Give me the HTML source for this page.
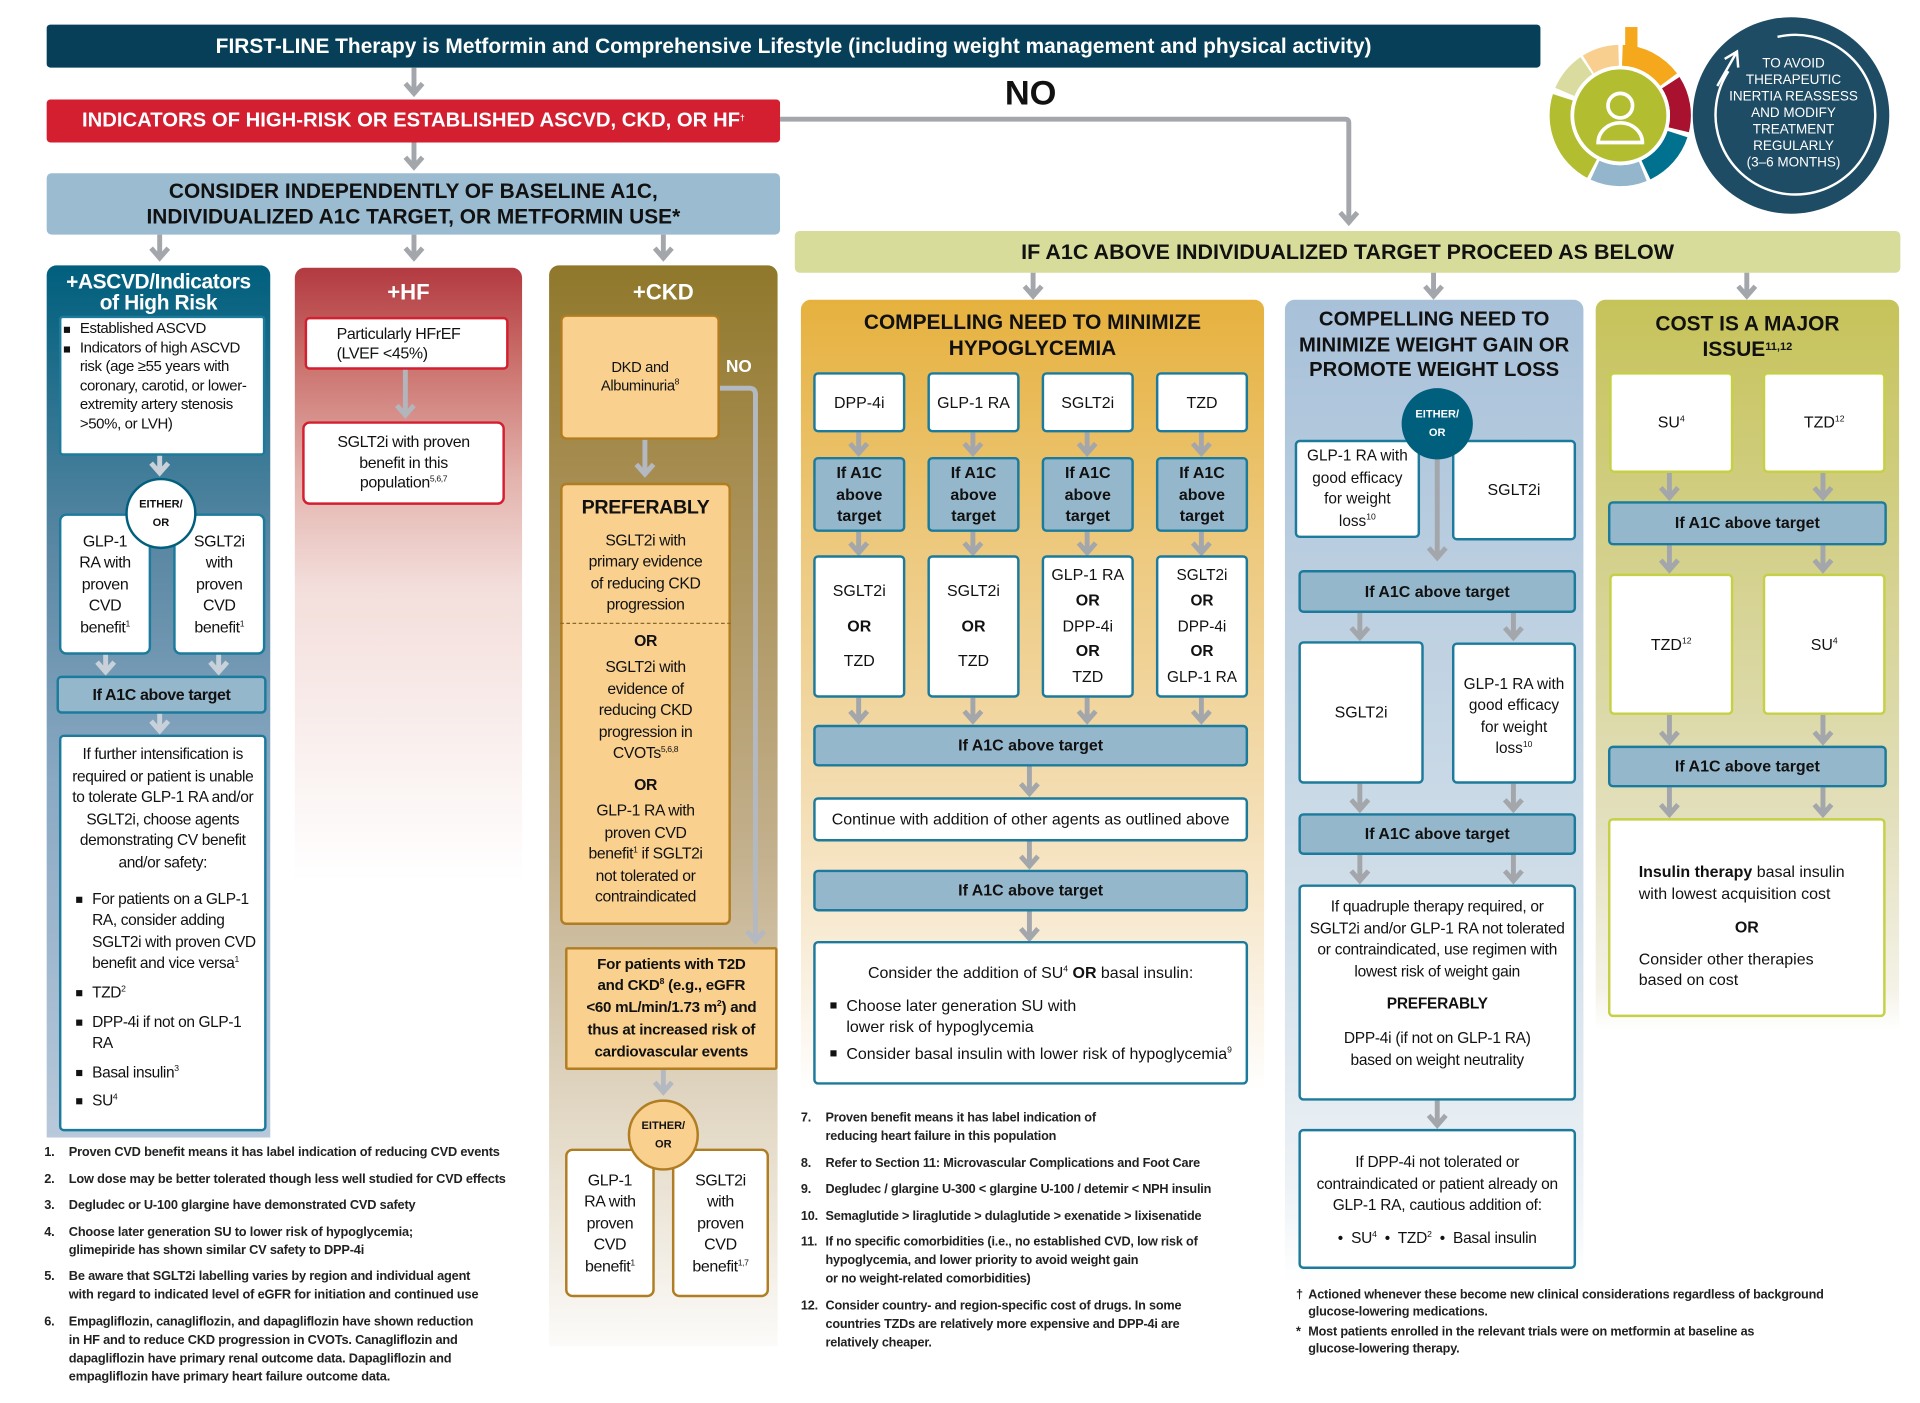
<!DOCTYPE html>
<html><head><meta charset="utf-8"><style>
html,body{margin:0;padding:0;background:#fff}
body{width:1920px;height:1403px;overflow:hidden;position:relative}
#c{position:absolute;left:0;top:0;width:1563px;height:1142px;transform:scale(1.22841);transform-origin:0 0;font-family:"Liberation Sans",sans-serif;color:#111}
.a{position:absolute;box-sizing:border-box}
.f{display:flex;flex-direction:column;align-items:center;justify-content:center;text-align:center}
.wb{background:#fff;border:2px solid #1c7b9c;border-radius:4px;font-size:13px;line-height:17.5px}
.bb{background:#95b7cc;border:2px solid #1c7b9c;border-radius:4px;font-size:13px;font-weight:bold;line-height:17.5px}
.ob{background:#f9d08e;border:2px solid #b07d22;border-radius:5px;font-size:13px;line-height:17.5px}
.yb{background:#fff;border:2px solid #c6d046;border-radius:4px;font-size:13px;line-height:17.5px}
.n{letter-spacing:-0.3px}
.hd{font-weight:bold;font-size:17px;line-height:21px}
sup{font-size:7px;vertical-align:5px;line-height:0}
ul{margin:0;padding:0 0 0 20px;list-style:none;text-align:left}
li{position:relative;margin-bottom:6px}
li:before{content:"";position:absolute;left:-13px;top:6px;width:5px;height:5px;background:#111}
.fn{font-size:10.4px;line-height:15px;font-weight:bold;color:#222;letter-spacing:-0.15px}
.fn div{position:relative;padding-left:20px;margin-bottom:6.5px}
.fn span{position:absolute;left:0}
</style></head><body><div id="c">

<!-- panels -->
<div class="a" style="left:38px;top:216px;width:182px;height:710px;border-radius:8px 8px 0 0;background:linear-gradient(#015f7e 0px,#0f6784 45px,#5a87a3 230px,#8aa9c3 420px,#b9cadb 720px)"></div>
<div class="a" style="left:240px;top:218px;width:185px;height:505px;border-radius:8px 8px 0 0;background:linear-gradient(#b23a40 0px,#c96c68 70px,#e3b2ac 170px,#f3dedb 260px,#fff 500px)"></div>
<div class="a" style="left:447px;top:216px;width:186px;height:880px;border-radius:8px 8px 0 0;background:linear-gradient(#8f782b 0px,#a48a4c 150px,#c3b08d 480px,#e6ddcc 720px,#fcfbf9 880px)"></div>
<div class="a" style="left:652px;top:244px;width:377px;height:645px;border-radius:8px 8px 0 0;background:linear-gradient(#e6b13e 0px,#edc97e 200px,#f3dcb0 400px,#faf1e2 560px,#fff 645px)"></div>
<div class="a" style="left:1046px;top:244px;width:243px;height:800px;border-radius:8px 8px 0 0;background:linear-gradient(#a8c1d9 0px,#bdd0e1 250px,#d3e0ea 520px,#edf2f6 720px,#fff 800px)"></div>
<div class="a" style="left:1299px;top:244px;width:247px;height:595px;border-radius:8px 8px 0 0;background:linear-gradient(#c6c35a 0px,#d3d08a 200px,#e2dfbc 420px,#f4f2e6 560px,#fff 595px)"></div>

<!-- top bars -->
<div class="a f" style="left:38px;top:20px;width:1216px;height:35px;background:#063f57;border-radius:3px;color:#fff;font-weight:bold;font-size:17px"><div>FIRST-LINE Therapy is Metformin and Comprehensive Lifestyle (including weight management and physical activity)</div></div>
<div class="a f" style="left:38px;top:81px;width:597px;height:35px;background:#d31f30;border-radius:3px;color:#fff;font-weight:bold;font-size:16.5px"><div>INDICATORS OF HIGH-RISK OR ESTABLISHED ASCVD, CKD, OR HF<sup>†</sup></div></div>
<div class="a f" style="left:38px;top:141px;width:597px;height:50px;background:#9bbbd1;border-radius:4px;font-weight:bold;font-size:17px;line-height:21px"><div>CONSIDER INDEPENDENTLY OF BASELINE A1C,<br>INDIVIDUALIZED A1C TARGET, OR METFORMIN USE*</div></div>
<div class="a" style="left:818px;top:60px;font-weight:bold;font-size:28px">NO</div>
<div class="a f" style="left:647px;top:188px;width:900px;height:34px;background:#d7dc9b;border-radius:4px;font-weight:bold;font-size:17.5px"><div>IF A1C ABOVE INDIVIDUALIZED TARGET PROCEED AS BELOW</div></div>

<!-- cycle graphic -->
<svg class="a" style="left:1250px;top:10px" width="313" height="180" viewBox="1250 10 313 180">
<g fill="none" stroke-width="17">
<circle cx="1319" cy="94" r="49" stroke="#f5a81c" stroke-dasharray="44 400" transform="rotate(-88 1319 94)"/>
<circle cx="1319" cy="94" r="49" stroke="#a8122e" stroke-dasharray="40 400" transform="rotate(-33 1319 94)"/>
<circle cx="1319" cy="94" r="49" stroke="#00718f" stroke-dasharray="40 400" transform="rotate(18 1319 94)"/>
<circle cx="1319" cy="94" r="49" stroke="#93b6cc" stroke-dasharray="40 400" transform="rotate(68 1319 94)"/>
<circle cx="1319" cy="94" r="49" stroke="#b2bd2f" stroke-dasharray="68 400" transform="rotate(118 1319 94)"/>
<circle cx="1319" cy="94" r="49" stroke="#d9dc9e" stroke-dasharray="28 400" transform="rotate(203 1319 94)"/>
<circle cx="1319" cy="94" r="49" stroke="#f9cf90" stroke-dasharray="26 400" transform="rotate(238 1319 94)"/>
</g>
<rect x="1323" y="22" width="10" height="22" fill="#f5a81c"/>
<circle cx="1319" cy="94" r="39" fill="#b2bd2f" stroke="#fff" stroke-width="3"/>
<circle cx="1319" cy="86" r="10" fill="none" stroke="#fff" stroke-width="3"/>
<path d="M1301 116 a18 16 0 0 1 36 0 z" fill="none" stroke="#fff" stroke-width="3"/>
<circle cx="1458" cy="94" r="80" fill="#1f4c65"/>
<path d="M1447 30 A65 65 0 1 1 1407 58" fill="none" stroke="#fff" stroke-width="2"/>
<path d="M1404 48 L1414 42 L1415 55 M1414 42 L1398 70" fill="none" stroke="#fff" stroke-width="2"/>
<text x="1460" y="55" fill="#fff" font-family="Liberation Sans" font-size="11" text-anchor="middle"><tspan x="1460">TO AVOID</tspan><tspan x="1460" dy="13.4">THERAPEUTIC</tspan><tspan x="1460" dy="13.4">INERTIA REASSESS</tspan><tspan x="1460" dy="13.4">AND MODIFY</tspan><tspan x="1460" dy="13.4">TREATMENT</tspan><tspan x="1460" dy="13.4">REGULARLY</tspan><tspan x="1460" dy="13.4">(3–6 MONTHS)</tspan></text>
</svg>

<!-- connectors -->
<svg class="a" style="left:0;top:0" width="1563" height="1142">
<g stroke="#a3a6aa" stroke-width="4" fill="none">
<path d="M337 55 V77 M330 68 L337 76 L344 68"/>
<path d="M337 116 V137 M330 128 L337 136 L344 128"/>
<path d="M130 191 V211 M123 202 L130 210 L137 202"/>
<path d="M337 191 V211 M330 202 L337 210 L344 202"/>
<path d="M540 191 V211 M533 202 L540 210 L547 202"/>
<path d="M635 97 H1095 Q1098 97 1098 100 V182 M1091 173 L1098 181 L1105 173"/>
<path d="M841 222 V242 M834 233 L841 241 L848 233"/>
<path d="M1167 222 V242 M1160 233 L1167 241 L1174 233"/>
<path d="M1422 222 V242 M1415 233 L1422 241 L1429 233"/>
<path d="M130 370 V386 M123 377 L130 385 L137 377" stroke="#c8d1da"/>
<path d="M86 532 V548 M79 539 L86 547 L93 539" stroke="#c8d1da"/>
<path d="M178 532 V548 M171 539 L178 547 L185 539" stroke="#c8d1da"/>
<path d="M130 580 V596 M123 587 L130 595 L137 587" stroke="#c8d1da"/>
<path d="M330 300 V339 M323 330 L330 338 L337 330" stroke="#b2b5b9"/>
<path d="M525 358 V387 M518 378 L525 386 L532 378" stroke="#b4b8c0"/>
<path d="M586 316 H610 Q615 316 615 321 V767 M608 758 L615 766 L622 758" stroke="#b4b8c0"/>
<path d="M540 871 V890 M533 881 L540 889 L547 881" stroke="#b4b8c0"/>
<path d="M699 352 V370 M692 361 L699 369 L706 361 M699 433 V451 M692 442 L699 450 L706 442 M699 568 V588 M692 579 L699 587 L706 579"/>
<path d="M792 352 V370 M785 361 L792 369 L799 361 M792 433 V451 M785 442 L792 450 L799 442 M792 568 V588 M785 579 L792 587 L799 579"/>
<path d="M885 352 V370 M878 361 L885 369 L892 361 M885 433 V451 M878 442 L885 450 L892 442 M885 568 V588 M878 579 L885 587 L892 579"/>
<path d="M978 352 V370 M971 361 L978 369 L985 361 M978 433 V451 M971 442 L978 450 L985 442 M978 568 V588 M971 579 L978 587 L985 579"/>
<path d="M838 624 V647 M831 638 L838 646 L845 638"/>
<path d="M838 685 V706 M831 697 L838 705 L845 697"/>
<path d="M838 742 V765 M831 756 L838 764 L845 756"/>
<path d="M1170 372 V455 M1163 446 L1170 454 L1177 446"/>
<path d="M1107 499 V520 M1100 511 L1107 519 L1114 511"/>
<path d="M1232 499 V520 M1225 511 L1232 519 L1239 511"/>
<path d="M1107 638 V660 M1100 651 L1107 659 L1114 651"/>
<path d="M1232 638 V660 M1225 651 L1232 659 L1239 651"/>
<path d="M1107 696 V718 M1100 709 L1107 717 L1114 709"/>
<path d="M1232 696 V718 M1225 709 L1232 717 L1239 709"/>
<path d="M1170 896 V917 M1163 908 L1170 916 L1177 908"/>
<path d="M1359 385 V406 M1352 397 L1359 405 L1366 397"/>
<path d="M1484 385 V406 M1477 397 L1484 405 L1491 397"/>
<path d="M1359 444 V465 M1352 456 L1359 464 L1366 456"/>
<path d="M1484 444 V465 M1477 456 L1484 464 L1491 456"/>
<path d="M1359 582 V605 M1352 596 L1359 604 L1366 596"/>
<path d="M1484 582 V605 M1477 596 L1484 604 L1491 596"/>
<path d="M1359 641 V664 M1352 655 L1359 663 L1366 655"/>
<path d="M1484 641 V664 M1477 655 L1484 663 L1491 655"/>
</g></svg>

<!-- ASCVD -->
<div class="a f n" style="left:38px;top:219px;width:182px;height:38px;color:#fff;font-weight:bold;font-size:17px;line-height:17px"><div>+ASCVD/Indicators<br>of High Risk</div></div>
<div class="a wb n" style="left:48px;top:257px;width:168px;height:114px;border-radius:3px;padding:1px 2px 0 3px;text-align:left;font-size:12.2px;line-height:15.5px">
<ul style="padding-left:12px"><li style="margin:0">Established ASCVD</li><li style="margin:0">Indicators of high ASCVD risk (age ≥55 years with coronary, carotid, or lower-extremity artery stenosis &gt;50%, or LVH)</li></ul></div>
<div class="a wb f n" style="left:48px;top:418px;width:75px;height:115px;border-radius:6px;font-size:13px"><div>GLP-1<br>RA with<br>proven<br>CVD<br>benefit<sup>1</sup></div></div>
<div class="a wb f n" style="left:141px;top:418px;width:75px;height:115px;border-radius:6px;font-size:13px"><div>SGLT2i<br>with<br>proven<br>CVD<br>benefit<sup>1</sup></div></div>
<div class="a f" style="left:102px;top:389px;width:58px;height:58px;border-radius:50%;background:#fff;border:2px solid #015f7e;font-size:9px;font-weight:bold;line-height:15px"><div>EITHER/<br>OR</div></div>
<div class="a bb f n" style="left:46px;top:550px;width:171px;height:31px"><div>If A1C above target</div></div>
<div class="a wb n" style="left:48px;top:598px;width:169px;height:323px;padding:6px 3px 0 3px;font-size:12.6px;line-height:17.6px;text-align:center">If further intensification is required or patient is unable to tolerate GLP-1 RA and/or SGLT2i, choose agents demonstrating CV benefit and/or safety:
<ul style="margin-top:12px;padding-left:22px"><li>For patients on a GLP-1 RA, consider adding SGLT2i with proven CVD benefit and vice versa<sup>1</sup></li><li>TZD<sup>2</sup></li><li>DPP-4i if not on GLP-1 RA</li><li>Basal insulin<sup>3</sup></li><li>SU<sup>4</sup></li></ul></div>

<!-- HF -->
<div class="a f" style="left:240px;top:225px;width:185px;height:26px;color:#fff;font-weight:bold;font-size:18px"><div>+HF</div></div>
<div class="a wb n" style="left:248px;top:258px;width:166px;height:43px;border-color:#d31f30;border-radius:4px;padding:4px 0 0 24px;text-align:left;font-size:13px;line-height:16px">Particularly HFrEF<br>(LVEF &lt;45%)</div>
<div class="a wb f n" style="left:246px;top:343px;width:165px;height:68px;border-color:#d31f30;border-radius:6px;font-size:13px;line-height:16.5px"><div>SGLT2i with proven<br>benefit in this<br>population<sup>5,6,7</sup></div></div>

<!-- CKD -->
<div class="a f" style="left:447px;top:225px;width:186px;height:26px;color:#fff;font-weight:bold;font-size:18px"><div>+CKD</div></div>
<div class="a ob f n" style="left:456px;top:256px;width:130px;height:102px;font-size:12px;line-height:15px"><div>DKD and<br>Albuminuria<sup>8</sup></div></div>
<div class="a" style="left:591px;top:290px;color:#fff;font-weight:bold;font-size:14px">NO</div>
<div class="a ob n" style="left:456px;top:393px;width:139px;height:360px;padding-top:10px;text-align:center;font-size:12.8px;line-height:17.5px">
<div style="font-weight:bold;font-size:16px;margin-bottom:8px">PREFERABLY</div>
<div>SGLT2i with<br>primary evidence<br>of reducing CKD<br>progression</div>
<div style="border-top:1.5px dashed #8a6a2a;margin:6px -2px 0 -2px;padding-top:5px;font-weight:bold">OR</div>
<div style="margin-top:4px">SGLT2i with<br>evidence of<br>reducing CKD<br>progression in<br>CVOTs<sup>5,6,8</sup></div>
<div style="font-weight:bold;margin-top:8px">OR</div>
<div style="margin-top:4px">GLP-1 RA with<br>proven CVD<br>benefit<sup>1</sup> if SGLT2i<br>not tolerated or<br>contraindicated</div></div>
<div class="a ob f" style="left:460px;top:771px;width:173px;height:100px;border-radius:2px;font-weight:bold;font-size:12.3px;line-height:17.7px;letter-spacing:-0.2px"><div>For patients with T2D<br>and CKD<sup>8</sup> (e.g., eGFR<br>&lt;60 mL/min/1.73 m<sup>2</sup>) and<br>thus at increased risk of<br>cardiovascular events</div></div>
<div class="a wb f n" style="left:460px;top:935px;width:73px;height:121px;border-color:#b07d22;border-radius:6px;font-size:13px"><div>GLP-1<br>RA with<br>proven<br>CVD<br>benefit<sup>1</sup></div></div>
<div class="a wb f n" style="left:547px;top:935px;width:79px;height:121px;border-color:#b07d22;border-radius:6px;font-size:13px"><div>SGLT2i<br>with<br>proven<br>CVD<br>benefit<sup>1,7</sup></div></div>
<div class="a f" style="left:511px;top:895px;width:58px;height:58px;border-radius:50%;background:#f9d08e;border:2px solid #b07d22;font-size:9px;font-weight:bold;line-height:15px"><div>EITHER/<br>OR</div></div>

<!-- HYPO -->
<div class="a f hd" style="left:652px;top:250px;width:377px;height:46px"><div>COMPELLING NEED TO MINIMIZE<br>HYPOGLYCEMIA</div></div>
<div class="a wb f" style="left:662px;top:303px;width:75px;height:49px"><div>DPP-4i</div></div>
<div class="a wb f" style="left:755px;top:303px;width:75px;height:49px"><div>GLP-1 RA</div></div>
<div class="a wb f" style="left:848px;top:303px;width:75px;height:49px"><div>SGLT2i</div></div>
<div class="a wb f" style="left:941px;top:303px;width:75px;height:49px"><div>TZD</div></div>
<div class="a bb f" style="left:662px;top:372px;width:75px;height:61px"><div>If A1C<br>above<br>target</div></div>
<div class="a bb f" style="left:755px;top:372px;width:75px;height:61px"><div>If A1C<br>above<br>target</div></div>
<div class="a bb f" style="left:848px;top:372px;width:75px;height:61px"><div>If A1C<br>above<br>target</div></div>
<div class="a bb f" style="left:941px;top:372px;width:75px;height:61px"><div>If A1C<br>above<br>target</div></div>
<div class="a wb f" style="left:662px;top:452px;width:75px;height:116px;line-height:28.5px"><div>SGLT2i<br><b>OR</b><br>TZD</div></div>
<div class="a wb f" style="left:755px;top:452px;width:75px;height:116px;line-height:28.5px"><div>SGLT2i<br><b>OR</b><br>TZD</div></div>
<div class="a wb f" style="left:848px;top:452px;width:75px;height:116px;line-height:20.8px"><div>GLP-1 RA<br><b>OR</b><br>DPP-4i<br><b>OR</b><br>TZD</div></div>
<div class="a wb f" style="left:941px;top:452px;width:75px;height:116px;line-height:20.8px;font-size:12.5px"><div>SGLT2i<br><b>OR</b><br>DPP-4i<br><b>OR</b><br>GLP-1 RA</div></div>
<div class="a bb f" style="left:662px;top:590px;width:354px;height:34px"><div>If A1C above target</div></div>
<div class="a wb f" style="left:662px;top:649px;width:354px;height:36px"><div>Continue with addition of other agents as outlined above</div></div>
<div class="a bb f" style="left:662px;top:708px;width:354px;height:34px"><div>If A1C above target</div></div>
<div class="a wb" style="left:662px;top:766px;width:354px;height:117px;padding:15px 0 0 12px;font-size:13px;line-height:17.5px">
<div style="text-align:center;margin-right:12px;margin-bottom:9px">Consider the addition of SU<sup>4</sup> <b>OR</b> basal insulin:</div>
<ul style="padding-left:13px"><li style="margin-bottom:4px">Choose later generation SU with<br>lower risk of hypoglycemia</li><li>Consider basal insulin with lower risk of hypoglycemia<sup>9</sup></li></ul></div>

<!-- WEIGHT -->
<div class="a f hd" style="left:1046px;top:248px;width:243px;height:66px;font-size:16.5px;line-height:20.5px"><div>COMPELLING NEED TO<br>MINIMIZE WEIGHT GAIN OR<br>PROMOTE WEIGHT LOSS</div></div>
<div class="a wb f" style="left:1054px;top:358px;width:102px;height:80px;line-height:17.5px;font-size:12.5px"><div>GLP-1 RA with<br>good efficacy<br>for weight<br>loss<sup>10</sup></div></div>
<div class="a wb f" style="left:1182px;top:358px;width:101px;height:82px"><div>SGLT2i</div></div>
<div class="a f" style="left:1141px;top:316px;width:58px;height:58px;border-radius:50%;background:#015f7e;color:#fff;font-size:9px;font-weight:bold;line-height:15px"><div>EITHER/<br>OR</div></div>
<div class="a bb f" style="left:1057px;top:464px;width:226px;height:35px"><div>If A1C above target</div></div>
<div class="a wb f" style="left:1057px;top:522px;width:102px;height:116px"><div>SGLT2i</div></div>
<div class="a wb f" style="left:1182px;top:523px;width:101px;height:115px;line-height:17.5px;padding-top:6px;font-size:12.5px"><div>GLP-1 RA with<br>good efficacy<br>for weight<br>loss<sup>10</sup></div></div>
<div class="a bb f" style="left:1057px;top:662px;width:226px;height:34px"><div>If A1C above target</div></div>
<div class="a wb" style="left:1057px;top:720px;width:226px;height:176px;padding:8px 4px 0;text-align:center;line-height:17.6px;font-size:12.6px;letter-spacing:-0.2px">If quadruple therapy required, or SGLT2i and/or GLP-1 RA not tolerated or contraindicated, use regimen with lowest risk of weight gain<div style="font-weight:bold;margin:9px 0 10px">PREFERABLY</div>DPP-4i (if not on GLP-1 RA)<br>based on weight neutrality</div>
<div class="a wb" style="left:1057px;top:919px;width:226px;height:114px;padding:17px 3px 0;text-align:center;line-height:17.6px;font-size:12.6px;letter-spacing:-0.2px">If DPP-4i not tolerated or contraindicated or patient already on GLP-1 RA, cautious addition of:<div style="margin-top:9px">•&nbsp; SU<sup>4</sup> &nbsp;•&nbsp; TZD<sup>2</sup> &nbsp;•&nbsp; Basal insulin</div></div>

<!-- COST -->
<div class="a f hd" style="left:1299px;top:252px;width:247px;height:44px"><div>COST IS A MAJOR<br>ISSUE<sup style="font-size:9px">11,12</sup></div></div>
<div class="a yb f" style="left:1310px;top:303px;width:101px;height:82px"><div>SU<sup>4</sup></div></div>
<div class="a yb f" style="left:1435px;top:303px;width:100px;height:82px"><div>TZD<sup>12</sup></div></div>
<div class="a bb f" style="left:1309px;top:408px;width:227px;height:36px"><div>If A1C above target</div></div>
<div class="a yb f" style="left:1310px;top:467px;width:101px;height:115px"><div>TZD<sup>12</sup></div></div>
<div class="a yb f" style="left:1435px;top:467px;width:100px;height:115px"><div>SU<sup>4</sup></div></div>
<div class="a bb f" style="left:1309px;top:607px;width:227px;height:34px"><div>If A1C above target</div></div>
<div class="a yb" style="left:1309px;top:666px;width:226px;height:162px;padding:33px 0 0 23px;line-height:17.6px"><b>Insulin therapy</b> basal insulin<br>with lowest acquisition cost<div style="font-weight:bold;text-align:center;margin:10px 23px 8px 0">OR</div>Consider other therapies<br>based on cost</div>

<!-- footnotes -->
<div class="a fn" style="left:36px;top:931px;width:430px">
<div><span>1.</span>Proven CVD benefit means it has label indication of reducing CVD events</div>
<div><span>2.</span>Low dose may be better tolerated though less well studied for CVD effects</div>
<div><span>3.</span>Degludec or U-100 glargine have demonstrated CVD safety</div>
<div><span>4.</span>Choose later generation SU to lower risk of hypoglycemia;<br>glimepiride has shown similar CV safety to DPP-4i</div>
<div><span>5.</span>Be aware that SGLT2i labelling varies by region and individual agent<br>with regard to indicated level of eGFR for initiation and continued use</div>
<div><span>6.</span>Empagliflozin, canagliflozin, and dapagliflozin have shown reduction<br>in HF and to reduce CKD progression in CVOTs. Canagliflozin and<br>dapagliflozin have primary renal outcome data. Dapagliflozin and<br>empagliflozin have primary heart failure outcome data.</div>
</div>
<div class="a fn" style="left:652px;top:903px;width:400px;font-size:10.3px">
<div><span>7.</span>Proven benefit means it has label indication of<br>reducing heart failure in this population</div>
<div><span>8.</span>Refer to Section 11: Microvascular Complications and Foot Care</div>
<div><span>9.</span>Degludec / glargine U-300 &lt; glargine U-100 / detemir &lt; NPH insulin</div>
<div><span>10.</span>Semaglutide &gt; liraglutide &gt; dulaglutide &gt; exenatide &gt; lixisenatide</div>
<div><span>11.</span>If no specific comorbidities (i.e., no established CVD, low risk of<br>hypoglycemia, and lower priority to avoid weight gain<br>or no weight-related comorbidities)</div>
<div><span>12.</span>Consider country- and region-specific cost of drugs. In some<br>countries TZDs are relatively more expensive and DPP-4i are<br>relatively cheaper.</div>
</div>
<div class="a fn" style="left:1055px;top:1048px;width:490px;font-size:10.3px;line-height:13.5px">
<div style="padding-left:10px;margin-bottom:3px"><span>†</span>Actioned whenever these become new clinical considerations regardless of background<br>glucose-lowering medications.</div>
<div style="padding-left:10px"><span>*</span>Most patients enrolled in the relevant trials were on metformin at baseline as<br>glucose-lowering therapy.</div>
</div>

</div></body></html>
